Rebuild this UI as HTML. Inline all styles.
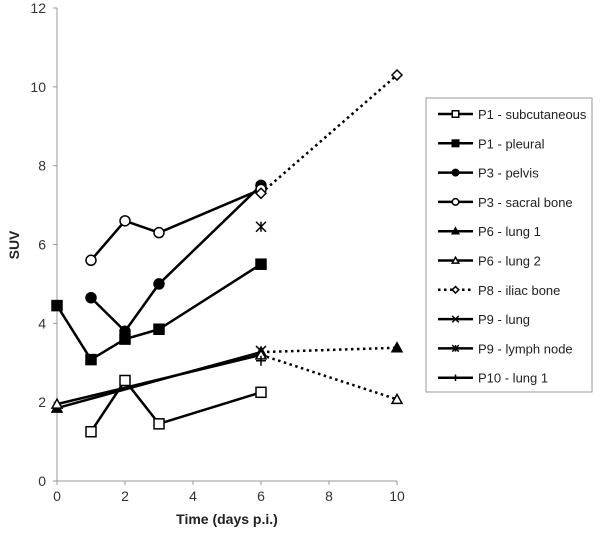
<!DOCTYPE html>
<html><head><meta charset="utf-8"><style>
body{margin:0;background:#fff;font-family:"Liberation Sans",Arial,sans-serif}
svg text{font-family:"Liberation Sans",Arial,sans-serif}
</style></head><body>
<svg id="c" width="600" height="534" xmlns="http://www.w3.org/2000/svg"></svg>
<script>
const yTicks=[0,2,4,6,8,10,12];
const xTicks=[0,2,4,6,8,10];
const seriesNames=["P1 - subcutaneous","P1 - pleural","P3 - pelvis","P3 - sacral bone","P6 - lung 1","P6 - lung 2","P8 - iliac bone","P9 - lung","P9 - lymph node","P10 - lung 1"];
const p1SubX=[1,2,3,6], p1SubY=[1.25,2.55,1.45,2.25];
const p1PleX=[0,1,2,3,6], p1PleY=[4.45,3.08,3.6,3.85,5.5];
const p3PelX=[1,2,3,6], p3PelY=[4.65,3.8,5.0,7.5];
const p3SacX=[1,2,3,6], p3SacY=[5.6,6.6,6.3,7.4];
const p6L1X=[0,6,10], p6L1Y=[1.85,3.27,3.38];
const p6L2X=[0,6,10], p6L2Y=[1.95,3.2,2.07];
const p8X=[6,10], p8Y=[7.3,10.3];
const p9LX=[6], p9LY=[3.3];
const p9NX=[6], p9NY=[6.45];
const p10X=[6], p10Y=[3.05];
const NS="http://www.w3.org/2000/svg", svg=document.getElementById('c');
const X0=57,X1=397,Y0=481,Y1=8;
const sx=v=>X0+(X1-X0)*v/10, sy=v=>Y0-(Y0-Y1)*v/12;
function el(t,a,p){const e=document.createElementNS(NS,t);for(const k in a)e.setAttribute(k,a[k]);(p||svg).appendChild(e);return e;}
let ax=el('line',{x1:X0,y1:Y1,x2:X0,y2:Y0,stroke:'#999','stroke-width':1});

ax=el('line',{x1:X0,y1:Y0,x2:X1,y2:Y0,stroke:'#999','stroke-width':1});

yTicks.forEach(v=>{el('line',{x1:X0-4,x2:X0,y1:sy(v),y2:sy(v),stroke:'#999'});
 const t=el('text',{x:X0-11,y:sy(v)+5,'text-anchor':'end','font-size':14,fill:'#333'});t.textContent=v;
 });
xTicks.forEach(v=>{el('line',{x1:sx(v),x2:sx(v),y1:Y0,y2:Y0+4,stroke:'#999'});
 const t=el('text',{x:sx(v),y:Y0+20,'text-anchor':'middle','font-size':14,fill:'#333'});t.textContent=v;
 });
let t=el('text',{x:227,y:524,'text-anchor':'middle','font-size':14,'font-weight':'bold',fill:'#222'});t.textContent='Time (days p.i.)';

t=el('text',{x:0,y:0,'text-anchor':'middle','font-size':14,'font-weight':'bold',fill:'#222',transform:'translate(19,245) rotate(-90)'});t.textContent='SUV';

function marker(type,x,y,g,s){s=s||1;const r=5*s;
 if(type=='sq'||type=='sqo')el('rect',{x:x-r,y:y-r,width:2*r,height:2*r,fill:type=='sq'?'#000':'#fff',stroke:'#000','stroke-width':1.5},g);
 else if(type=='ci'||type=='cio')el('circle',{cx:x,cy:y,r:r,fill:type=='ci'?'#000':'#fff',stroke:'#000','stroke-width':1.5},g);
 else if(type=='tr'||type=='tro')el('polygon',{points:`${x},${y-r} ${x+r},${y+r*0.8} ${x-r},${y+r*0.8}`,fill:type=='tr'?'#000':'#fff',stroke:'#000','stroke-width':1.5},g);
 else if(type=='di')el('polygon',{points:`${x},${y-r} ${x+r},${y} ${x},${y+r} ${x-r},${y}`,fill:'#fff',stroke:'#000','stroke-width':1.5},g);
 else if(type=='x'){el('path',{d:`M${x-r} ${y-r}L${x+r} ${y+r}M${x-r} ${y+r}L${x+r} ${y-r}`,stroke:'#000','stroke-width':1.5},g);}
 else if(type=='st'){el('path',{d:`M${x-r} ${y-r}L${x+r} ${y+r}M${x-r} ${y+r}L${x+r} ${y-r}M${x} ${y-r}L${x} ${y+r}`,stroke:'#000','stroke-width':1.5},g);}
 else if(type=='pl'){el('path',{d:`M${x-r} ${y}L${x+r} ${y}M${x} ${y-r}L${x} ${y+r}`,stroke:'#000','stroke-width':1.5},g);}
}
const series=[[p1SubX,p1SubY,'sqo'],[p1PleX,p1PleY,'sq'],[p3PelX,p3PelY,'ci'],[p3SacX,p3SacY,'cio'],[p6L1X,p6L1Y,'tr'],[p6L2X,p6L2Y,'tro'],[p8X,p8Y,'di'],[p9LX,p9LY,'x'],[p9NX,p9NY,'st'],[p10X,p10Y,'pl']];
series.forEach((s,i)=>{const g=el('g',{});
 
 
 const [xs,ys,m]=s;
 for(let k=1;k<xs.length;k++){const dot=(xs[k-1]>=6)||i==6;
  el('line',{x1:sx(xs[k-1]),y1:sy(ys[k-1]),x2:sx(xs[k]),y2:sy(ys[k]),stroke:'#000','stroke-width':2.5,'stroke-dasharray':dot?'2.5 3.5':'none'},g);}
 xs.forEach((x,k)=>marker(m,sx(x),sy(ys[k]),g));
});
const lg=el('g',{});
el('rect',{x:426,y:98,width:166,height:294,fill:'#fff',stroke:'#999','stroke-width':1},lg);
seriesNames.forEach((n,i)=>{const y=114+i*29.3;const g=el('g',{},lg);
 
 el('line',{x1:438,x2:473,y1:y,y2:y,stroke:'#000','stroke-width':2.5,'stroke-dasharray':i==6?'2.5 3.5':'none'},g);
 marker(series[i][2],455.5,y,g,0.65);
 const tt=el('text',{x:478,y:y+5,'font-size':13,fill:'#222'},g);tt.textContent=n;});
</script>
</body></html>
